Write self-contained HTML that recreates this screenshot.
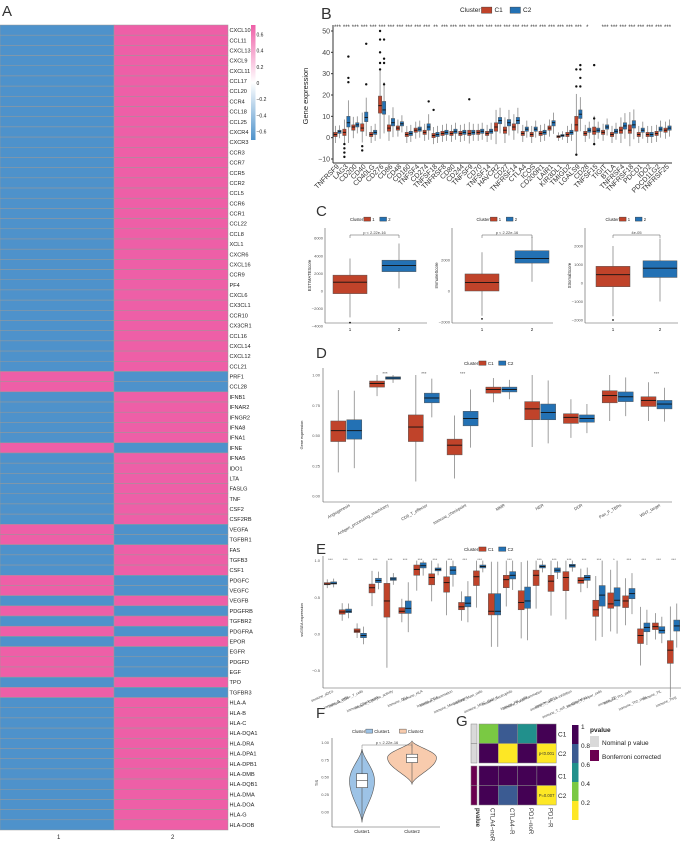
<!DOCTYPE html>
<html><head><meta charset="utf-8">
<style>
html,body{margin:0;padding:0;background:#fff;}
svg{display:block;font-family:"Liberation Sans",sans-serif;}
.nar{font-family:"Liberation Sans Narrow","Liberation Sans",sans-serif;}
</style></head>
<body>
<svg id="fig" width="688" height="841" viewBox="0 0 688 841" xmlns="http://www.w3.org/2000/svg">
<rect width="688" height="841" fill="#fff"/>
</svg>
<script>
// ---------- Panel A data ----------
const aGenes=["CXCL10","CCL11","CXCL13","CXCL9","CXCL11","CCL17","CCL20","CCR4","CCL18","CCL25","CXCR4","CXCR3","CCR3","CCR7","CCR5","CCR2","CCL5","CCR6","CCR1","CCL22","CCL8","XCL1","CXCR6","CXCL16","CCR9","PF4","CXCL6","CX3CL1","CCR10","CX3CR1","CCL16","CXCL14","CXCL12","CCL21","PRF1","CCL28","IFNB1","IFNAR2","IFNGR2","IFNA8","IFNA1","IFNE","IFNA5","IDO1","LTA","FASLG","TNF","CSF2","CSF2RB","VEGFA","TGFBR1","FAS","TGFB3","CSF1","PDGFC","VEGFC","VEGFB","PDGFRB","TGFBR2","PDGFRA","EPOR","EGFR","PDGFD","EGF","TPO","TGFBR3","HLA-A","HLA-B","HLA-C","HLA-DQA1","HLA-DRA","HLA-DPA1","HLA-DPB1","HLA-DMB","HLA-DQB1","HLA-DMA","HLA-DOA","HLA-G","HLA-DOB"];
const aCluster1Value=[-0.7,-0.7,-0.7,-0.7,-0.7,-0.7,-0.7,-0.7,-0.7,-0.7,-0.7,-0.7,-0.7,-0.7,-0.7,-0.7,-0.7,-0.7,-0.7,-0.7,-0.7,-0.7,-0.7,-0.7,-0.7,-0.7,-0.7,-0.7,-0.7,-0.7,-0.7,-0.7,-0.7,-0.7,0.7,0.7,-0.7,-0.7,-0.7,-0.7,-0.7,0.7,-0.7,-0.7,-0.7,-0.7,-0.7,-0.7,-0.7,0.7,0.7,-0.7,-0.7,-0.7,0.7,0.7,-0.7,0.7,-0.7,0.7,-0.7,0.7,0.7,0.7,-0.7,0.7,-0.7,-0.7,-0.7,-0.7,-0.7,-0.7,-0.7,-0.7,-0.7,-0.7,-0.7,-0.7,-0.7];
const aColbarTicks=[0.6,0.4,0.2,0,-0.2,-0.4,-0.6];

// ---------- Panel B data ----------
const bGenes=["TNFRSF9","LAG3","CD200","CD40","CD40LG","CD276","CD86","CD48","CD160","TNFSF4","CD274","TNFSF18","TNFRSF8","CD80","CD244","TNFSF9","CD70","TNFSF14","HAVCR2","CD27","TNFRSF14","CTLA4","ICOS","CD200R1","LAIR1","KIR3DL1","TMIGD2","LGALS9","CD28","TNFSF15","TIGIT","BTLA","TNFRSF4","TNFRSF18","PDCD1","IDO2","PDCD1LG2","TNFRSF25"];
const bC1Median=[1.5,2.5,5,4.5,1.5,15,4.5,4.5,1.5,3.5,2.5,1,2,2,2,2,2.5,2,5,3.5,5,2,1.5,2,4.5,0.5,1.5,6,2,3,2.5,1.5,3.5,3.5,1.5,1.5,2,3.5];
const bC1Q1=[0.5,1,3.5,3,0.5,11.5,3,3.5,0.5,2.5,1.5,0,1,1,1,1,1.5,1,3,2,3.5,1,0.5,1,3.5,0,0.5,3,1,1.5,1.5,0.5,2,2,0.5,0.5,1,2.5];
const bC1Q3=[2.5,4,6,6.5,2.5,19.5,6,5.5,2.5,4.5,3.5,2,3,3,3,3.5,3.5,3,7,5,6.5,3,2.5,3,5.5,1,2.5,10,3,5,3.5,2.5,5,6,2.5,2.5,3,4.5];
const bC2Median=[3,7,6,9.5,2.5,13,7,6.5,2,4,5,1.5,2.5,3,2.5,2.5,3,3,8,7,8,4,4,2.5,7,1,2.5,11,3.5,3.5,5,3,5.5,6,3.5,1.5,4,4.5];
const bC2Q1=[2,5,5,7.5,1.5,11,5.5,5.5,1,3,3.5,0.5,1.5,2,1.5,1.5,2,2,6.5,5.5,6.5,3,3,1.5,5.5,0.5,1.5,9,2.5,2.5,4,2,4,4.5,2.5,0.5,3,3.5];
const bC2Q3=[3.5,10,7,12,3.5,17,9,7.5,3,5,6.5,2.5,3.5,4,3.5,3.5,4,4,9.5,8.5,9.5,5,5,3.5,8,1.5,3.5,13,4.5,4.5,6,4,7,8,4.5,2.5,5,5.5];
const bStars=["***","***","***","***","***","***","***","***","***","***","***","**","***","***","***","***","***","***","***","***","***","***","***","***","***","***","***","***","*","","***","***","***","***","***","***","***","***"];
const bOutGene=[1,1,1,1,1,1,1,3,3,5,5,5,5,5,5,5,5,5,10,11,15,27,27,27,27,27,27,27,29,29,29,3,3];
const bOutCluster=[2,2,2,1,1,1,1,2,2,1,1,1,1,1,2,2,2,2,2,1,1,2,2,2,2,1,1,1,1,1,1,1,1];
const bOutValue=[38,28,26,-9,-7,-5,-3,44,25,50,46,40,35,32,46,37,35,25,17,13,18,34,32,28,24,32,24,-8,34,9,-3,-6,-4];
const bTicks=[50,40,30,20,10,0,-10];

// ---------- Panel C data ----------
const cTitles=["ESTIMATEScore","ImmuneScore","StromalScore"];
const cPText=["p < 2.22e-16","p < 2.22e-16","4e-05"];
const cC1Stats=[[-3000,-300,1000,1800,3700],[-1600,0,550,1100,2500],[-1800,-200,450,900,2000]];
const cC2Stats=[[300,2200,2900,3500,5400],[600,1800,2100,2600,3500],[-1000,300,800,1200,2400]];
const cOutlier=[-3600,-1800,-2000];
const cTicks0=[6000,4000,2000,0,-2000,-4000];
const cTicks1=[2000,0,-2000];
const cTicks2=[2000,1000,0,-1000,-2000];

// ---------- Panel D data ----------
const dCats=["Angiogenesis","Antigen_processing_machinery","CD8_T_effector","Immune_checkpoint","MMR","NER","DDR","Pan_F_TBRs","WNT_target"];
const dC1Med=[0.54,0.93,0.57,0.42,0.88,0.72,0.65,0.83,0.79];
const dC1Q1=[0.45,0.90,0.45,0.34,0.85,0.63,0.60,0.77,0.74];
const dC1Q3=[0.62,0.95,0.67,0.47,0.90,0.78,0.68,0.87,0.82];
const dC2Med=[0.54,0.975,0.81,0.64,0.88,0.69,0.64,0.82,0.76];
const dC2Q1=[0.47,0.965,0.77,0.58,0.86,0.63,0.61,0.78,0.72];
const dC2Q3=[0.63,0.985,0.85,0.70,0.90,0.76,0.67,0.86,0.79];
const dStars=["","***","***","***","","","","","***"];
const dTicks=[1.0,0.75,0.5,0.25,0.0];

// ---------- Panel E data ----------
const eCats=["aDCs","B_cells","CD8+_T_cells","Check-point","Cytolytic_activity","DCs","HLA","iDCs","Inflammation","Macrophages","Mast_cells","MHC_class_I","Neutrophils","NK_cells","Parainflammation","pDCs","T_cell_co-inhibition","T_cell_co-stimulation","T_helper_cells","Tfh","Th1_cells","Th2_cells","TIL","Treg"];
const eC1Med=[0.68,0.30,0.04,0.63,0.45,0.31,0.88,0.77,0.70,0.37,0.78,0.31,0.74,0.43,0.80,0.72,0.77,0.73,0.33,0.41,0.45,-0.02,0.10,-0.22];
const eC1Q1=[0.67,0.27,0.02,0.56,0.23,0.28,0.80,0.67,0.57,0.33,0.66,0.26,0.63,0.33,0.66,0.58,0.59,0.69,0.24,0.35,0.36,-0.13,0.06,-0.40];
const eC1Q3=[0.70,0.33,0.07,0.68,0.69,0.36,0.94,0.82,0.78,0.43,0.86,0.55,0.80,0.59,0.87,0.80,0.85,0.77,0.46,0.56,0.52,0.07,0.15,-0.09];
const eC2Med=[0.69,0.31,-0.02,0.73,0.75,0.35,0.93,0.88,0.87,0.42,0.92,0.31,0.80,0.45,0.92,0.87,0.93,0.77,0.53,0.46,0.55,0.09,0.05,0.11];
const eC2Q1=[0.68,0.29,-0.05,0.70,0.73,0.28,0.90,0.86,0.81,0.37,0.90,0.26,0.75,0.35,0.90,0.84,0.91,0.73,0.38,0.38,0.48,0.03,0.01,0.04];
const eC2Q3=[0.71,0.34,0.01,0.76,0.77,0.45,0.97,0.90,0.92,0.51,0.94,0.55,0.85,0.64,0.94,0.90,0.95,0.80,0.66,0.63,0.62,0.15,0.10,0.19];
const eStars=["***","***","***","***","***","***","***","***","***","***","***","","***","","***","***","***","***","***","*","***","***","***","***"];
const eTicks=[1.0,0.5,0.0,-0.5];

// ---------- Panel F data ----------
const fGroups=["Cluster1","Cluster2"];
const fBoxStats=[[0.35,0.45,0.55],[0.71,0.78,0.83]];
const fRange=[[-0.15,0.91],[0.40,1.02]];
const fMode=[0.45,0.78];
const fMaxHalfWidth=[12.5,24.5];
const fTicks=[1.0,0.75,0.5,0.25,0.0];

// ---------- Panel G data ----------
const gCols=["CTLA4\u2212noR","CTLA4\u2212R","PD1\u2212noR","PD1\u2212R"];
const gRows=["C1","C2","C1","C2"];
const gValues=[[0.3,0.7,0.5,0.9],[0.9,0.1,0.9,0.1],[0.9,0.9,0.9,0.9],[0.9,0.7,0.9,0.1]];
const gCellText=[["","","",""],["","","","p<0.001"],["","","",""],["","","","P=0.007"]];
const gLegendTicks=["1","0.8","0.6","0.4","0.2"];

// ---------- helpers ----------
const NS='http://www.w3.org/2000/svg';
const svg=document.getElementById('fig');
function mk(tag,attrs,parent,name){
  const e=document.createElementNS(NS,tag);
  for(const k in attrs) e.setAttribute(k,attrs[k]);
  
  
  (parent||svg).appendChild(e);
  return e;
}
function txt(x,y,s,size,parent,name,extra){
  const a=Object.assign({x:x,y:y,'font-size':size,fill:'#222'},extra||{});
  const t=mk('text',a,parent,name);
  t.textContent=s;
  return t;
}
const RED='#C0432A', BLUE='#2371B4';
function box(g,cx,w,lo,q1,med,q3,hi,yf,col,name){
  mk('line',{x1:cx,x2:cx,y1:yf(lo),y2:yf(hi),stroke:'#888','stroke-width':0.8},g,name+'-whisker');
  mk('rect',{x:cx-w/2,y:yf(q3),width:w,height:Math.max(0.6,yf(q1)-yf(q3)),fill:col,stroke:'#555','stroke-width':0.5},g,name+'-box');
  mk('line',{x1:cx-w/2,x2:cx+w/2,y1:yf(med),y2:yf(med),stroke:'#111','stroke-width':0.9},g,name+'-median');
}
function legend(g,cx,y,labels,cols,fs){
  const t=txt(cx-26,y+2,'Cluster',fs,g,'legend-title');
  let x=cx-26+fs*3.3;
  for(let i=0;i<labels.length;i++){
    mk('rect',{x:x,y:y-fs*0.45,width:fs*1.6,height:fs*0.95,fill:cols[i],stroke:'#333','stroke-width':0.4},g,'legend-key-'+labels[i]);
    txt(x+fs*2,y+2,labels[i],fs,g,'legend-label-'+labels[i]);
    x+=fs*2+labels[i].length*fs*0.6+fs*1.2;
  }
}

// ================= Panel A =================
(function(){
  const g=mk('g',{},svg,'panel-a-heatmap');
  txt(2,16,'A',15,g,'panel-a-label',{fill:'#333'});
  const top=25, rh=805/aGenes.length;
  const pink='#EE5FA7', blue='#4E92CB';
  function color(v){return v>0?pink:blue;}
  aGenes.forEach((gn,i)=>{
    const y=top+i*rh;
    const v=aCluster1Value[i];
    mk('rect',{x:0,y:y,width:114,height:rh,fill:color(v),stroke:'#999','stroke-width':0.5},g,'cell-'+gn+'-1');
    mk('rect',{x:114,y:y,width:114,height:rh,fill:color(-v),stroke:'#999','stroke-width':0.5},g,'cell-'+gn+'-2');
    txt(229.5,y+rh/2+2,gn,5.6,g,'row-label-'+gn,{class:'nar'});
  });
  txt(57,839,'1',6,g,'col-label-1');
  txt(171,839,'2',6,g,'col-label-2');
  const defs=mk('defs',{},g,'defs');
  const lg=mk('linearGradient',{id:'gA',x1:0,y1:0,x2:0,y2:1},defs,'colorbar-gradient');
  mk('stop',{offset:'0',"stop-color":pink},lg,'stop-top');
  mk('stop',{offset:'0.5',"stop-color":'#ffffff'},lg,'stop-mid');
  mk('stop',{offset:'1',"stop-color":blue},lg,'stop-bottom');
  mk('rect',{x:251,y:25,width:4.5,height:115,fill:'url(#gA)'},g,'colorbar');
  aColbarTicks.forEach(v=>{
    const y=83-v/0.2*16.2;
    txt(256.5,y+2,String(v).replace('-','\u2212'),5,g,'colorbar-tick',{class:'nar'});
  });
})();

// ================= Panel B =================
(function(){
  const g=mk('g',{},svg,'panel-b-boxplot');
  txt(321,19,'B',16,g,'panel-b-label',{fill:'#333'});
  const L=333,R=672,T=25,B=163;
  const yf=v=>31+(50-v)*128/60;
  const step=(R-L)/bGenes.length;
  legend(g,486,10,['C1','C2'],[RED,BLUE],6.5);
  mk('line',{x1:L,x2:L,y1:T,y2:B},g,'y-axis').setAttribute('stroke','#333');
  mk('line',{x1:L,x2:R,y1:B,y2:B},g,'x-axis').setAttribute('stroke','#333');
  bTicks.forEach(v=>{
    mk('line',{x1:L-2,x2:L,y1:yf(v),y2:yf(v),stroke:'#333'},g,'y-tick');
    txt(L-3,yf(v)+2.5,String(v).replace('-','\u2212'),7,g,'y-tick-label',{'text-anchor':'end',fill:'#444'});
  });
  txt(0,0,'Gene expression',7.5,g,'y-axis-title',{transform:'translate(308,96) rotate(-90)','text-anchor':'middle'});
  bGenes.forEach((gn,i)=>{
    const cx=L+step*(i+0.5);
    let q1=bC1Q1[i],q3=bC1Q3[i],iq=q3-q1;
    box(g,cx-2,3.4,q1-1.5*iq,q1,bC1Median[i],q3,q3+1.5*iq,yf,RED,'box-'+gn+'-c1');
    q1=bC2Q1[i];q3=bC2Q3[i];iq=q3-q1;
    box(g,cx+2,3.4,q1-1.5*iq,q1,bC2Median[i],q3,q3+1.5*iq,yf,BLUE,'box-'+gn+'-c2');
    txt(cx,29,bStars[i],6,g,'signif-'+gn,{'text-anchor':'middle',fill:'#333'});
    txt(0,0,gn,7,g,'x-label-'+gn,{transform:'translate('+(cx+2)+',167) rotate(-45)','text-anchor':'end',fill:'#333'});
  });
  for(let k=0;k<bOutGene.length;k++){
    const cx=L+step*(bOutGene[k]+0.5)+(bOutCluster[k]===1?-2:2);
    mk('circle',{cx:cx,cy:yf(bOutValue[k]),r:1.2,fill:'#111'},g,'outlier');
  }
})();

// ================= Panel C =================
(function(){
  const g=mk('g',{},svg,'panel-c-boxplots');
  txt(316,216,'C',15,g,'panel-c-label',{fill:'#333'});
  const specs=[
    {L:325,R:427,b1:350,b2:399,y0:291,pp:88/10000,ticks:cTicks0,bot:323},
    {L:452,R:553,b1:482,b2:532,y0:291,pp:31/2000,ticks:cTicks1,bot:323},
    {L:585,R:678,b1:613,b2:660,y0:283,pp:18.5/1000,ticks:cTicks2,bot:323}
  ];
  specs.forEach((s,k)=>{
    const sg=mk('g',{},g,'subplot-'+cTitles[k]);
    const yf=v=>s.y0-v*s.pp;
    legend(sg,(s.L+s.R)/2,219,['1','2'],[RED,BLUE],4.2);
    mk('line',{x1:s.L,x2:s.L,y1:228,y2:s.bot,stroke:'#555','stroke-width':0.6},sg,'y-axis');
    mk('line',{x1:s.L,x2:s.R,y1:s.bot,y2:s.bot,stroke:'#555','stroke-width':0.6},sg,'x-axis');
    s.ticks.forEach(v=>{
      txt(s.L-2,yf(v)+1.5,String(v).replace('-','\u2212'),4,sg,'y-tick-label',{'text-anchor':'end',fill:'#555'});
    });
    txt(0,0,cTitles[k],4.2,sg,'y-axis-title',{transform:'translate('+(s.L-14)+','+((228+s.bot)/2)+') rotate(-90)','text-anchor':'middle'});
    const a=cC1Stats[k],b=cC2Stats[k];
    box(sg,s.b1,34,a[0],a[1],a[2],a[3],a[4],yf,RED,'box-c1');
    box(sg,s.b2,34,b[0],b[1],b[2],b[3],b[4],yf,BLUE,'box-c2');
    mk('circle',{cx:s.b1,cy:yf(cOutlier[k]),r:0.9,fill:'#111'},sg,'outlier');
    mk('path',{d:'M'+s.b1+' 238V235H'+s.b2+'V238',fill:'none',stroke:'#555','stroke-width':0.5},sg,'signif-bracket');
    txt((s.b1+s.b2)/2,234,cPText[k],4,sg,'p-value',{'text-anchor':'middle',fill:'#444'});
    txt(s.b1,331,'1',4.5,sg,'x-tick-1',{'text-anchor':'middle'});
    txt(s.b2,331,'2',4.5,sg,'x-tick-2',{'text-anchor':'middle'});
  });
})();

// ================= Panel D =================
(function(){
  const g=mk('g',{},svg,'panel-d-boxplot');
  txt(316,358,'D',15,g,'panel-d-label',{fill:'#333'});
  const L=323,R=672,B=502;
  const yf=v=>496-v*121;
  const step=(R-L)/dCats.length;
  legend(g,490,363,['C1','C2'],[RED,BLUE],4.5);
  mk('line',{x1:L,x2:L,y1:368,y2:B,stroke:'#555','stroke-width':0.6},g,'y-axis');
  mk('line',{x1:L,x2:R,y1:B,y2:B,stroke:'#555','stroke-width':0.6},g,'x-axis');
  dTicks.forEach(v=>{
    txt(L-3,yf(v)+1.5,v.toFixed(2),4,g,'y-tick-label',{'text-anchor':'end',fill:'#555'});
  });
  txt(0,0,'Gene expression',3.8,g,'y-axis-title',{transform:'translate(303,435) rotate(-90)','text-anchor':'middle'});
  dCats.forEach((c,i)=>{
    const cx=L+step*(i+0.6);
    let q1=dC1Q1[i],q3=dC1Q3[i],iq=q3-q1;
    box(g,cx-8,15,Math.max(0,q1-1.5*iq),q1,dC1Med[i],q3,Math.min(1,q3+1.5*iq),yf,RED,'box-'+c+'-c1');
    q1=dC2Q1[i];q3=dC2Q3[i];iq=q3-q1;
    box(g,cx+8,15,Math.max(0,q1-1.5*iq),q1,dC2Med[i],q3,Math.min(1,q3+1.5*iq),yf,BLUE,'box-'+c+'-c2');
    txt(cx,375,dStars[i],4.5,g,'signif-'+c,{'text-anchor':'middle',fill:'#555'});
    txt(0,0,c,4.2,g,'x-label-'+c,{transform:'translate('+(cx+4)+',506) rotate(-30)','text-anchor':'end',fill:'#444'});
  });
})();

// ================= Panel E =================
(function(){
  const g=mk('g',{},svg,'panel-e-boxplot');
  txt(316,554,'E',15,g,'panel-e-label',{fill:'#333'});
  const L=323,R=681,B=688;
  const yf=v=>634-v*73.4;
  const step=(R-L)/eCats.length;
  legend(g,490,549,['C1','C2'],[RED,BLUE],4.5);
  mk('line',{x1:L,x2:L,y1:556,y2:B,stroke:'#555','stroke-width':0.6},g,'y-axis');
  mk('line',{x1:L,x2:R,y1:B,y2:B,stroke:'#555','stroke-width':0.6},g,'x-axis');
  eTicks.forEach(v=>{
    txt(L-3,yf(v)+1.5,v.toFixed(1).replace('-','\u2212'),4,g,'y-tick-label',{'text-anchor':'end',fill:'#555'});
  });
  txt(0,0,'ssGSEA expression',3.8,g,'y-axis-title',{transform:'translate(303,620) rotate(-90)','text-anchor':'middle'});
  eCats.forEach((c,i)=>{
    const cx=L+step*(i+0.5);
    let q1=eC1Q1[i],q3=eC1Q3[i],iq=q3-q1;
    box(g,cx-3.2,6,q1-1.5*iq,q1,eC1Med[i],q3,Math.min(1,q3+1.5*iq),yf,RED,'box-'+c+'-c1');
    q1=eC2Q1[i];q3=eC2Q3[i];iq=q3-q1;
    box(g,cx+3.2,6,q1-1.5*iq,q1,eC2Med[i],q3,Math.min(1,q3+1.5*iq),yf,BLUE,'box-'+c+'-c2');
    txt(cx,561,eStars[i],4,g,'signif-'+c,{'text-anchor':'middle',fill:'#555'});
    txt(0,0,'immune_'+c,3.6,g,'x-label-'+c,{transform:'translate('+(cx+3)+','+(692+(i%2)*6)+') rotate(-25)','text-anchor':'end',fill:'#444'});
  });
})();

// ================= Panel F =================
(function(){
  const g=mk('g',{},svg,'panel-f-violin');
  txt(316,718,'F',15,g,'panel-f-label',{fill:'#333'});
  const L=332,R=440,B=827;
  const yf=v=>812-v*69.6;
  const cx=[362,412], cols=['#9DC3E6','#F8CBAD'];
  legend(g,378,731,fGroups,cols,4.2);
  mk('line',{x1:L,x2:L,y1:738,y2:B,stroke:'#555','stroke-width':0.6},g,'y-axis');
  mk('line',{x1:L,x2:R,y1:B,y2:B,stroke:'#555','stroke-width':0.6},g,'x-axis');
  fTicks.forEach(v=>{
    txt(L-3,yf(v)+1.5,v.toFixed(2),4,g,'y-tick-label',{'text-anchor':'end',fill:'#555'});
  });
  txt(0,0,'TIS',4,g,'y-axis-title',{transform:'translate(318,783) rotate(-90)','text-anchor':'middle'});
  fGroups.forEach((gr,i)=>{
    const lo=fRange[i][0],hi=fRange[i][1],m=fMode[i],W=fMaxHalfWidth[i];
    const n=40; let right=[],left=[];
    for(let k=0;k<=n;k++){
      const v=lo+(hi-lo)*k/n;
      const s=v<m?(v-lo)/(m-lo):(hi-v)/(hi-m);
      const w=W*Math.pow(Math.sin(Math.PI/2*s),1.6);
      right.push((cx[i]+w).toFixed(2)+' '+yf(v).toFixed(2));
      left.unshift((cx[i]-w).toFixed(2)+' '+yf(v).toFixed(2));
    }
    mk('path',{d:'M'+right.join('L')+'L'+left.join('L')+'Z',fill:cols[i],stroke:'#555','stroke-width':0.6},g,'violin-'+gr);
    mk('line',{x1:cx[i],x2:cx[i],y1:yf(lo+0.03),y2:yf(hi-0.03),stroke:'#555','stroke-width':0.6},g,'violin-whisker-'+gr);
    const b=fBoxStats[i];
    mk('rect',{x:cx[i]-5.5,y:yf(b[2]),width:11,height:yf(b[0])-yf(b[2]),fill:'#fff',stroke:'#444','stroke-width':0.6},g,'violin-box-'+gr);
    mk('line',{x1:cx[i]-5.5,x2:cx[i]+5.5,y1:yf(b[1]),y2:yf(b[1]),stroke:'#444','stroke-width':0.6},g,'violin-median-'+gr);
    txt(cx[i],833,gr,4.2,g,'x-label-'+gr,{'text-anchor':'middle'});
  });
  mk('path',{d:'M'+cx[0]+' 748V745H'+cx[1]+'V748',fill:'none',stroke:'#777','stroke-width':0.5},g,'signif-bracket');
  txt(387,744,'p < 2.22e-16',4,g,'p-value',{'text-anchor':'middle',fill:'#444'});
})();

// ================= Panel G =================
(function(){
  const g=mk('g',{},svg,'panel-g-heatmap');
  txt(456,726,'G',15,g,'panel-g-label',{fill:'#333'});
  const pal=['#FDE725','#7AC943','#21908C','#3B5B92','#440154'];
  const col=v=>pal[Math.min(4,Math.floor(v/0.2))];
  const x0=479,cw=19.3,rh=19.5;
  const rowY=[724,743.5,766,785.5];
  gRows.forEach((r,ri)=>{
    gCols.forEach((c,ci)=>{
      mk('rect',{x:x0+ci*cw,y:rowY[ri],width:cw,height:rh,fill:col(gValues[ri][ci]),stroke:'#888','stroke-width':0.5},g,'cell-'+r+'-'+c);
      if(gCellText[ri][ci]) txt(x0+ci*cw+cw/2,rowY[ri]+rh/2+1.5,gCellText[ri][ci],4.2,g,'cell-text',{'text-anchor':'middle',fill:'#333'});
    });
    mk('rect',{x:471,y:rowY[ri],width:6,height:rh,fill:ri<2?'#D9D9D9':'#6B0050',stroke:'#888','stroke-width':0.5},g,'annotation-'+r);
    txt(558,rowY[ri]+rh/2+2.5,r,6.5,g,'row-label-'+r);
  });
  const bottomLabels=['pvalue'].concat(gCols), bx=[474,488.6,507.9,527.2,546.5];
  bottomLabels.forEach((s,i)=>{
    txt(0,0,s,6,g,'col-label-'+s,{transform:'translate('+(bx[i]+2)+',808) rotate(90)','font-weight':i===0?'bold':'normal',fill:'#333'});
  });
  for(let k=0;k<5;k++){
    mk('rect',{x:572,y:725+k*19,width:6.5,height:19,fill:pal[4-k]},g,'legend-bin');
  }
  gLegendTicks.forEach((s,k)=>txt(581,729+k*19,s,6.5,g,'legend-tick'));
  txt(590,732,'pvalue',6.5,g,'legend-title',{'font-weight':'bold'});
  mk('rect',{x:590,y:736,width:9,height:11,fill:'#D9D9D9'},g,'legend-key-nominal');
  txt(602,745,'Nominal p value',6.5,g,'legend-label-nominal');
  mk('rect',{x:590,y:750,width:9,height:11,fill:'#6B0050'},g,'legend-key-bonferroni');
  txt(602,759,'Bonferroni corrected',6.5,g,'legend-label-bonferroni');
})();
</script>
</body></html>
